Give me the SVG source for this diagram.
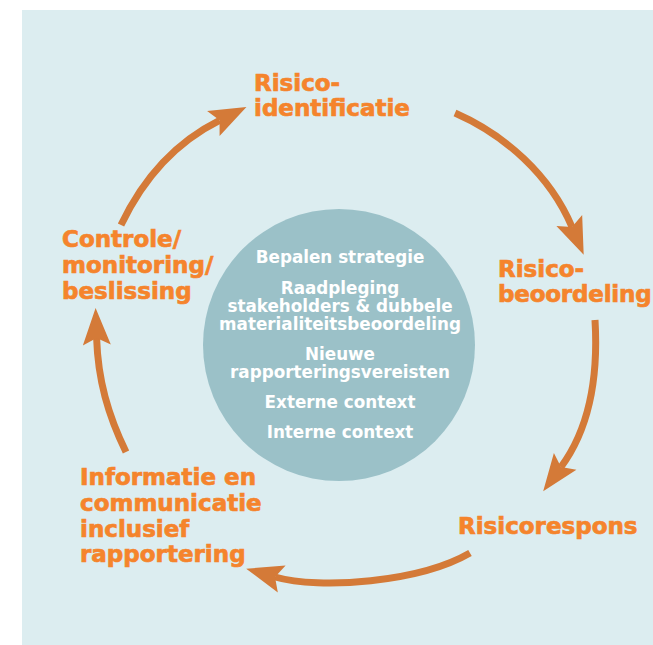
<svg xmlns="http://www.w3.org/2000/svg" width="653" height="645" viewBox="0 0 653 645">
<style>
.bg{fill:#dcedf0}
.core{fill:#9bc1c8}
.lbl{font-family:"DejaVu Sans","Liberation Sans",sans-serif;font-weight:700;font-size:23px;fill:#f5842c;stroke:#f5842c;stroke-width:0.7}
.in{font-family:"DejaVu Sans","Liberation Sans",sans-serif;font-weight:700;font-size:16.8px;fill:#ffffff;text-anchor:middle}
.arc{fill:none;stroke:#d47a38;stroke-width:7;marker-end:url(#head)}
</style>
<defs>
<marker id="head" markerUnits="userSpaceOnUse" markerWidth="60" markerHeight="60" refX="0" refY="0" orient="auto" overflow="visible">
<path d="M30,0 L-7,-14 L0,0 L-7,14 Z" fill="#d47a38"/>
</marker>
</defs>
<rect class="bg" x="22" y="10" width="631" height="635"/>
<g id="core">
<circle class="core" cx="339" cy="345" r="136"/>
<text class="in" x="340" y="263">Bepalen strategie</text>
<text class="in" x="340" y="294">Raadpleging</text>
<text class="in" x="340" y="312">stakeholders &amp; dubbele</text>
<text class="in" x="340" y="330">materialiteitsbeoordeling</text>
<text class="in" x="340" y="360">Nieuwe</text>
<text class="in" x="340" y="378">rapporteringsvereisten</text>
<text class="in" x="340" y="408">Externe context</text>
<text class="in" x="340" y="438">Interne context</text>
</g>
<g id="connectors">
<path class="arc" d="M121,225 C140,185 170,145 219.6,120.3"/>
<path class="arc" d="M455,113 C505,135 550,175 572,227"/>
<path class="arc" d="M595,320 C598,370 592,425 561,467"/>
<path class="arc" d="M470,553 C420,582 320,590 275,577"/>
<path class="arc" d="M126,452 C108,415 98,380 96.6,338"/>
</g>
<g id="identificatie">
<text class="lbl" x="254" y="91">Risico-</text>
<text class="lbl" x="254" y="116">identificatie</text>
</g>
<g id="beoordeling">
<text class="lbl" x="498" y="277">Risico-</text>
<text class="lbl" x="498" y="302" letter-spacing="-0.2">beoordeling</text>
</g>
<g id="respons">
<text class="lbl" x="458" y="534">Risicorespons</text>
</g>
<g id="informatie">
<text class="lbl" x="80" y="485">Informatie en</text>
<text class="lbl" x="80" y="511">communicatie</text>
<text class="lbl" x="80" y="537">inclusief</text>
<text class="lbl" x="80" y="562">rapportering</text>
</g>
<g id="controle">
<text class="lbl" x="62" y="247">Controle/</text>
<text class="lbl" x="62" y="273">monitoring/</text>
<text class="lbl" x="62" y="299">beslissing</text>
</g>
</svg>
